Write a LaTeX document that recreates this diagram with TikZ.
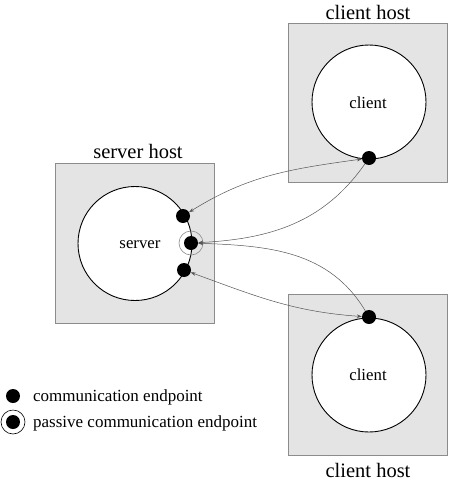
\documentclass[tikz,border=0pt]{standalone}
\usepackage{fontspec}
\setmainfont{Liberation Serif}
\usetikzlibrary{arrows.meta}
\definecolor{hostfill}{HTML}{E4E4E4}
\definecolor{hostdraw}{HTML}{8C8C8C}
\definecolor{linkcol}{HTML}{555555}
\tikzset{
  hostbox/.style={draw=hostdraw, fill=hostfill, line width=0.8pt},
  proc/.style={circle, draw=black, fill=white, line width=0.9pt, minimum size=114pt, inner sep=0pt},
  proctext/.style={inner sep=0pt, font=\fontsize{16.8}{18}\selectfont},
  endpt/.style={circle, fill=black, minimum size=14pt, inner sep=0pt},
  hostlabel/.style={anchor=base, inner sep=0pt, font=\fontsize{20.5}{22}\selectfont},
  legtext/.style={anchor=base west, inner sep=0pt, font=\fontsize{17}{18}\selectfont},
  link/.style={draw=linkcol, line width=0.5pt},
  tip/.tip={Stealth[length=5pt,width=3.5pt]},
}
\begin{document}
\begin{tikzpicture}[x=1pt,y=1pt]
\useasboundingbox (0,0) rectangle (450,-482);
% hosts
\draw[hostbox] (288,-23) rectangle (447,-182);
\draw[hostbox] (55,-163) rectangle (214,-323);
\draw[hostbox] (288,-294) rectangle (447,-455);
\node[hostlabel] (lct) at (368,-19) {client host};
\node[hostlabel] (lsh) at (138,-158) {server host};
\node[hostlabel] (lcb) at (368,-477) {client host};
% processes
\node[proc] (ct) at (369,-102) {};
\node[proctext] (tct) at (368,-102.5) {client};
\node[proc] (srv) at (135,-243.5) {};
\node[proctext] (tsrv) at (140,-244.5) {server};
\node[proc] (cb) at (369,-375) {};
\node[proctext] (tcb) at (368,-374.5) {client};
% endpoints
\node[circle, draw=hostdraw, line width=0.6pt, minimum size=24pt, inner sep=0pt] (ring) at (191,-243) {};
\node[endpt] (su) at (183,-216) {};
\node[endpt] (sp) at (191,-243) {};
\node[endpt] (sl) at (184,-270) {};
\node[endpt] (cte) at (369,-158) {};
\node[endpt] (cbe) at (369,-317) {};
% links
\draw[link, tip-tip] (su) to[out=32, in=188] (cte);
\draw[link, -tip] (cte) to[out=235, in=3] (sp);
\draw[link, -tip] (cbe) to[out=121, in=-2] (sp);
\draw[link, tip-tip] (sl) to[out=-20, in=176] (cbe);
% legend
\node[endpt] (le1) at (13,-396) {};
\node[legtext] (lt1) at (33,-401) {communication endpoint};
\node[circle, draw=black, line width=0.6pt, minimum size=24pt, inner sep=0pt] (le2r) at (13,-422) {};
\node[endpt] (le2) at (13,-422) {};
\node[legtext] (lt2) at (33,-427) {passive communication endpoint};
\end{tikzpicture}
\end{document}
